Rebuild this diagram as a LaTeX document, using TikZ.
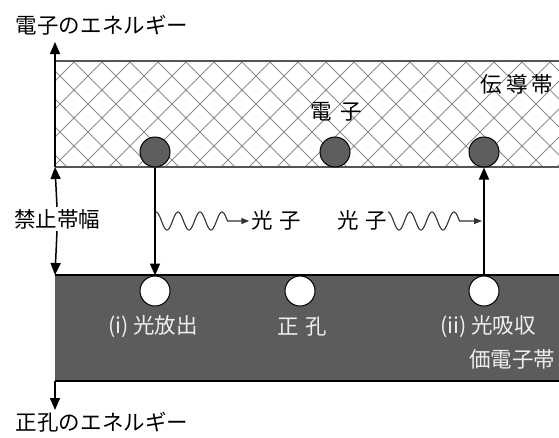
\documentclass[tikz,border=0pt]{standalone}
\usepackage{fontspec}
\setmainfont{Noto Sans CJK JP}
\usetikzlibrary{arrows.meta}
\definecolor{hatchgray}{HTML}{8C8C8C}
\definecolor{bandgray}{HTML}{5C5C5C}
\definecolor{edgegray}{HTML}{555555}
\definecolor{elecgray}{HTML}{5E5E5E}
\definecolor{lighttext}{HTML}{EEEEEE}
\definecolor{wavegray}{HTML}{333333}
\begin{document}
\begin{tikzpicture}[x=1pt,y=-1pt,
  lbl/.style={font=\fontsize{21.5}{25}\selectfont, inner sep=2pt, text=black},
  inlbl/.style={lbl, text=lighttext},
  bigarr/.style={line width=1.5pt, draw=black, -{Triangle[length=12pt,width=10pt]}},
  wavearr/.style={line width=1.1pt, draw=wavegray, -{Triangle[length=8pt,width=6pt]}},
  electron/.style={circle, draw=black, line width=1pt, fill=elecgray, minimum size=30pt, inner sep=0pt},
  hole/.style={circle, draw=black, line width=1pt, fill=white, minimum size=30pt, inner sep=0pt},
  hatch/.style={draw=hatchgray, line width=0.8pt}
]
\useasboundingbox (0,0) rectangle (559,437);

% coordinates of the axis and bands
\coordinate (axtop) at (55,42);
\coordinate (cbtl) at (55,61);
\coordinate (cbbl) at (55,167);
\coordinate (vbtl) at (55,275);
\coordinate (vbbl) at (55,381);
\coordinate (axbot) at (55,410);

% conduction band with cross hatch
\begin{scope}
  \clip (55,61) rectangle (559,167);
  \foreach \k in {-5,...,18} {
    \pgfmathsetmacro{\c}{12+28*\k}
    \draw[hatch] (\c+61,61) -- (\c+167,167);
  }
  \foreach \k in {-3,...,22} {
    \pgfmathsetmacro{\d}{164+28*\k}
    \draw[hatch] (\d-61,61) -- (\d-167,167);
  }
\end{scope}
\draw[edgegray, line width=1.5pt] (cbtl) -- (560,61);
\draw[edgegray, line width=1.5pt] (cbbl) -- (560,167);

% valence band
\fill[bandgray] (vbtl) rectangle (560,381);
\draw[black, line width=1.3pt] (vbtl) -- (560,275);
\draw[black, line width=1.3pt] (vbbl) -- (560,381);

% axis labels
\node[lbl] (etop) at (102,25) {電子のエネルギー};
\node[lbl] (hbot) at (102,422) {正孔のエネルギー};
\node[lbl] (gap) at (57,219) {禁止帯幅};

% axis arrows
\draw[bigarr] (cbbl) -- (axtop);
\draw[bigarr] (gap.north) -- (cbbl);
\draw[bigarr] (gap.south) -- (vbtl);
\draw[bigarr] (vbbl) -- (axbot);

% band labels
\node[lbl] (cband) at (517,84) {伝\hspace{4pt}導\hspace{4pt}帯};
\node[lbl] (elab) at (336,112) {電\hspace{8pt}子};
\node[inlbl] (l1) at (153,327) {(i) 光放出};
\node[inlbl] (l2) at (302,327) {正\hspace{7pt}孔};
\node[inlbl] (l3) at (488,327) {(ii) 光吸収};
\node[inlbl] (vband) at (512,359) {価電子帯};

% electrons and holes
\node[electron] (e1) at (155,152) {};
\node[electron] (e2) at (335,152) {};
\node[electron] (e3) at (484,152) {};
\node[hole] (h1) at (155,291) {};
\node[hole] (h2) at (300,291) {};
\node[hole] (h3) at (484,291) {};

% transitions
\draw[bigarr] (e1.south) -- (h1.north);
\draw[bigarr] (h3.north) -- (e3.south);

% photons
\node[lbl] (p1) at (276,220) {光\hspace{6pt}子};
\node[lbl] (p2) at (362,220) {光\hspace{6pt}子};
\coordinate (w2end) at (482,221);
\draw[wavearr] plot[domain=0:3.25, samples=140, smooth] ({156+\x*22}, {221-9*cos(360*\x)}) -- (p1.west |- 0,221);
\draw[wavearr] plot[domain=0:3.25, samples=140, smooth] ({388+\x*22}, {221-9*cos(360*\x)}) -- (w2end);
\end{tikzpicture}
\end{document}
